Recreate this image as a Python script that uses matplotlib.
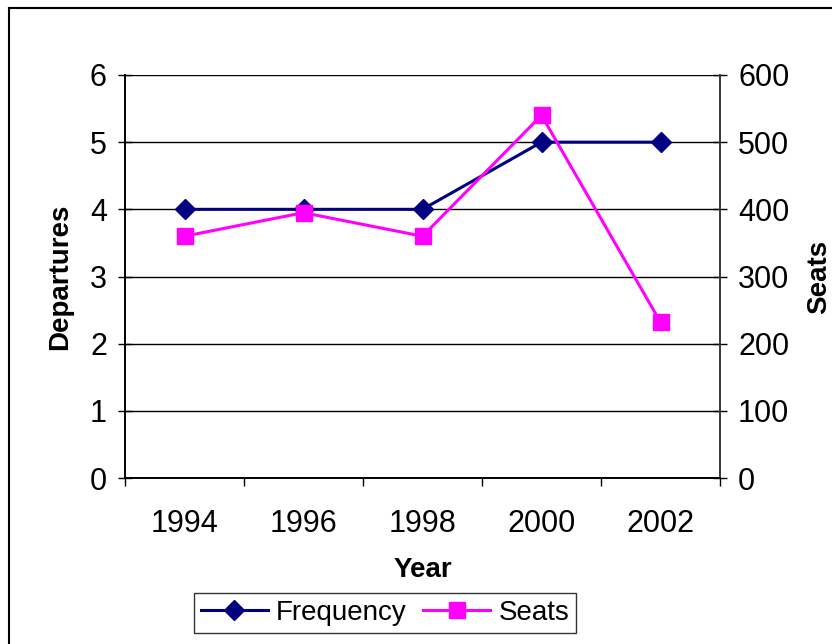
import matplotlib
matplotlib.use('Agg')
import matplotlib.pyplot as plt
from matplotlib.lines import Line2D

years = ["1994", "1996", "1998", "2000", "2002"]
frequency = [4, 4, 4, 5, 5]
seats = [360, 395, 360, 540, 232]

plt.rcParams['font.family'] = ['Liberation Sans', 'DejaVu Sans']

fig = plt.figure(figsize=(8.32, 6.44), dpi=100)
W, H = 832, 644
ax = fig.add_axes([125 / W, 1 - 478 / H, (720 - 125) / W, (478 - 75) / H])
ax2 = ax.twinx()

x = list(range(len(years)))

# gridlines on the left axis
ax.set_ylim(0, 6)
ax.set_yticks(range(0, 7))
ax.yaxis.grid(True, color='black', linewidth=1)
ax.set_axisbelow(True)
ax.set_xlim(-0.5, len(years) - 0.5)
ax.set_xticks([i - 0.5 for i in range(len(years) + 1)])
ax.set_xticklabels([])
ax.set_xticks(x, minor=True)
ax.set_xticklabels(years, minor=True)
ax.tick_params(axis='x', which='major', direction='out', length=6, width=1)
ax.tick_params(axis='x', which='minor', length=0, pad=22, labelsize=22)
ax.tick_params(axis='y', direction='inout', length=10, width=1, labelsize=22, pad=8)

ax2.set_ylim(0, 600)
ax2.set_yticks(range(0, 700, 100))
ax2.tick_params(axis='y', direction='inout', length=10, width=1, labelsize=22, pad=8)

for a in (ax, ax2):
    a.spines['top'].set_visible(False)
    for s in ('left', 'right', 'bottom'):
        a.spines[s].set_linewidth(1.2)
ax2.spines['right'].set_color('#404040')

ax.plot(x, frequency, color='#000080', linewidth=2.2, marker='D', markersize=10,
        zorder=3, clip_on=False)
ax2.plot(x, seats, color='#FF00FF', linewidth=2.2, marker='s', markersize=11,
         zorder=3, clip_on=False)
ax.set_zorder(0)
ax2.set_zorder(1)
ax2.patch.set_visible(False)

ax.set_xlabel("Year", fontsize=20, fontweight='bold', labelpad=13)
ax.set_ylabel("Departures", fontsize=20, fontweight='bold', labelpad=12)
ax2.set_ylabel("Seats", fontsize=20, fontweight='bold', labelpad=12)

handles = [
    Line2D([], [], color='#000080', linewidth=2.2, marker='D', markersize=10),
    Line2D([], [], color='#FF00FF', linewidth=2.2, marker='s', markersize=11),
]
leg = fig.legend(handles, ["Frequency", "Seats"], loc='center',
                 bbox_to_anchor=(385 / W, 1 - 613 / H), ncol=2, fontsize=20,
                 frameon=True, fancybox=False, edgecolor='black',
                 handlelength=2.4, handletextpad=0.3, columnspacing=0.6,
                 borderpad=0.25)
leg.get_frame().set_linewidth(1)

# outer chart border (left and top edges visible)
fig.add_artist(Line2D([9 / W, 9 / W], [0, 1 - 8 / H], transform=fig.transFigure,
                      color='black', linewidth=1.5))
fig.add_artist(Line2D([9 / W, 1], [1 - 8 / H, 1 - 8 / H], transform=fig.transFigure,
                      color='black', linewidth=1.5))

fig.savefig('out.png', dpi=100)
